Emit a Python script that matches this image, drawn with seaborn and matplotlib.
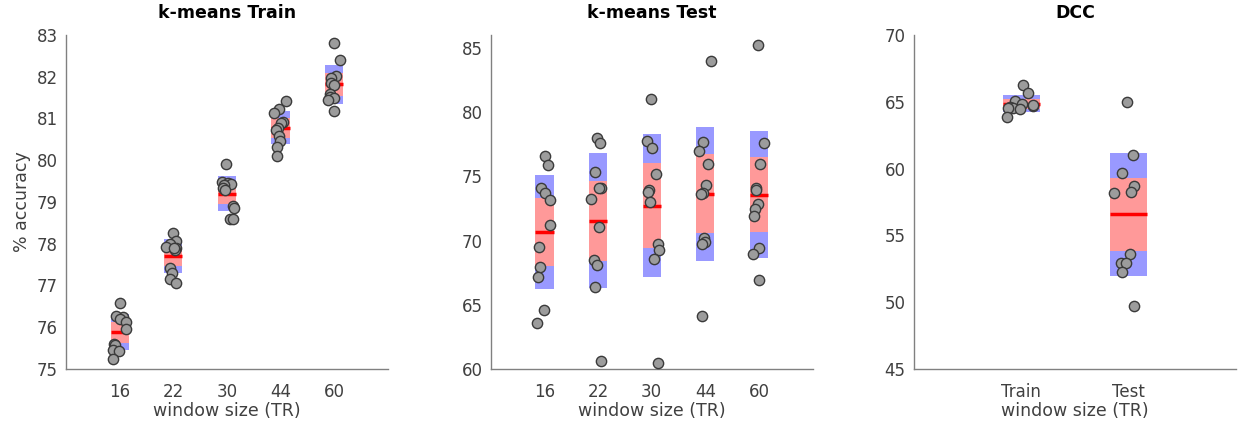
import numpy as np
import pandas as pd
import matplotlib
matplotlib.use("Agg")
import matplotlib.pyplot as plt
import seaborn as sns

# ---- accuracy values (%), one entry per subject ----
window_sizes = ["16", "22", "30", "44", "60"]

train_16 = [76.57, 76.25, 76.27, 76.20, 76.12, 75.96, 75.60, 75.58, 75.45, 75.42, 75.25]
train_22 = [78.25, 78.06, 78.00, 77.90, 77.85, 77.93, 77.89, 77.43, 77.29, 77.15, 77.07]
train_30 = [79.92, 79.47, 79.45, 79.42, 79.40, 79.33, 79.28, 78.90, 78.86, 78.60, 78.60]
train_44 = [81.42, 81.22, 81.12, 80.92, 80.88, 80.78, 80.72, 80.58, 80.47, 80.31, 80.10]
train_60 = [82.81, 82.40, 82.02, 81.98, 81.85, 81.80, 81.58, 81.52, 81.48, 81.45, 81.18]

test_16 = [76.57, 75.85, 74.06, 73.67, 73.13, 71.19, 69.50, 67.95, 67.20, 64.60, 63.60]
test_22 = [78.00, 77.60, 75.33, 74.11, 74.11, 73.21, 71.06, 68.49, 68.10, 66.42, 60.60]
test_30 = [81.03, 77.74, 77.22, 75.15, 73.93, 73.80, 73.00, 69.76, 69.25, 68.55, 60.47]
test_44 = [83.96, 77.66, 77.00, 75.98, 74.32, 73.72, 73.65, 70.18, 69.89, 69.71, 64.14]
test_60 = [85.25, 77.60, 75.93, 74.11, 73.93, 72.82, 72.48, 71.91, 69.45, 68.93, 66.94]

dcc_groups = ["Train", "Test"]
dcc_train = [66.26, 65.63, 65.08, 64.80, 64.70, 64.76, 64.60, 64.55, 64.50, 64.45, 63.89]
dcc_test = [65.00, 61.02, 59.65, 58.72, 58.27, 58.15, 53.58, 52.96, 52.91, 52.24, 49.72]


def long_frame(groups, values):
    rows = [(g, v) for g, vals in zip(groups, values) for v in vals]
    return pd.DataFrame(rows, columns=["group", "acc"])


km_train = long_frame(window_sizes, [train_16, train_22, train_30, train_44, train_60])
km_test = long_frame(window_sizes, [test_16, test_22, test_30, test_44, test_60])
dcc = long_frame(dcc_groups, [dcc_train, dcc_test])

sns.set_theme(style="white")
plt.rcParams["font.family"] = ["DejaVu Sans"]

SD_COLOR = "#9999ff"
CI_COLOR = "#ff9999"
BOX_W = 0.34
AXIS_GREY = "#808080"
TEXT_GREY = "#404040"


def not_box_plot(ax, df, order):
    """Mean line, 95% CI of the mean (red) and 1 SD (blue) with jittered points."""
    stats = df.groupby("group")["acc"].agg(["mean", "std", "count"]).reindex(order)
    x = np.arange(len(order))
    mean = stats["mean"].to_numpy()
    sd = stats["std"].to_numpy()
    ci = 1.96 * sd / np.sqrt(stats["count"].to_numpy())
    ax.bar(x, 2 * sd, bottom=mean - sd, width=BOX_W, color=SD_COLOR,
           linewidth=0, zorder=1)
    ax.bar(x, 2 * ci, bottom=mean - ci, width=BOX_W, color=CI_COLOR,
           linewidth=0, zorder=2)
    ax.hlines(mean, x - BOX_W / 2, x + BOX_W / 2, color="red", lw=2.5, zorder=3)
    np.random.seed(3)
    sns.stripplot(data=df, x="group", y="acc", order=order, jitter=0.14,
                  size=7.4, color="#9c9c9c", edgecolor="#3a3a3a", linewidth=1,
                  ax=ax, zorder=4)
    ax.set_xlim(-1, len(order))


def style_axes(ax, title, ylim, yticks):
    ax.set_ylim(*ylim)
    ax.set_yticks(yticks)
    ax.set_title(title, fontsize=12.5, fontweight="bold", color="black", pad=12)
    ax.set_xlabel("window size (TR)", fontsize=12.5, color=TEXT_GREY, labelpad=1)
    ax.set_ylabel("")
    for side in ("top", "right"):
        ax.spines[side].set_visible(False)
    for side in ("left", "bottom"):
        ax.spines[side].set_color(AXIS_GREY)
        ax.spines[side].set_linewidth(1)
    ax.tick_params(axis="both", direction="in", length=3, width=1,
                   color=AXIS_GREY, labelcolor=TEXT_GREY, labelsize=12)
    ax.tick_params(axis="x", pad=10)
    ax.tick_params(axis="y", pad=6)


fig = plt.figure(figsize=(12.38, 4.22), dpi=100)
bottom, height, width = 0.1256, 0.7915, 0.260
ax1 = fig.add_axes([0.0533, bottom, width, height])
ax2 = fig.add_axes([0.3964, bottom, width, height])
ax3 = fig.add_axes([0.7383, bottom, width, height])

not_box_plot(ax1, km_train, window_sizes)
style_axes(ax1, "k-means Train", (75, 83), np.arange(75, 84, 1))
ax1.set_ylabel("% accuracy", fontsize=12.5, color=TEXT_GREY, labelpad=4)

not_box_plot(ax2, km_test, window_sizes)
style_axes(ax2, "k-means Test", (60, 86), np.arange(60, 86, 5))

not_box_plot(ax3, dcc, dcc_groups)
style_axes(ax3, "DCC", (45, 70), np.arange(45, 71, 5))

fig.savefig("out.png", dpi=100, facecolor="white")
